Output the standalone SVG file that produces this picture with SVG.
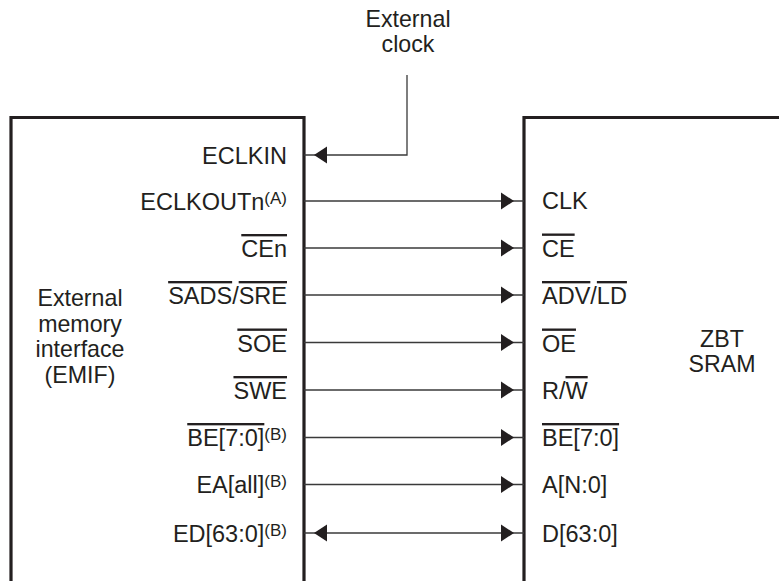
<svg xmlns="http://www.w3.org/2000/svg" width="779" height="581" viewBox="0 0 779 581">
<style>
text{font-family:"Liberation Sans",Arial,sans-serif;font-size:23.5px;fill:#231f20}
.l{text-anchor:end}
.c{text-anchor:middle}
.blk{font-size:23.2px}
.ov{text-decoration:overline}
.sup{font-size:17px}
.box{fill:none;stroke:#231f20;stroke-width:3.2}
.wire{fill:none;stroke:#3a3a3a;stroke-width:1.3}
</style>
<defs>
<marker id="ah" markerUnits="userSpaceOnUse" markerWidth="30" markerHeight="20" viewBox="-30 -10 30 20" refX="0" refY="0" orient="auto-start-reverse">
<path d="M-10,0 L-23,-8.5 L-23,8.5 Z" fill="#231f20"/>
</marker>
</defs>
<rect width="779" height="581" fill="#fff"/>
<g id="emif">
<path class="box" d="M11,581 V117.5 H304 V581"/>
<text class="c blk" x="80" y="306">External</text>
<text class="c blk" x="80" y="331.5">memory</text>
<text class="c blk" x="80" y="357">interface</text>
<text class="c blk" x="80" y="382.5">(EMIF)</text>
<text class="l" x="287" y="163.5">ECLKIN</text>
<text class="l" x="287" y="209.5">ECLKOUTn<tspan class="sup" dy="-6">(A)</tspan></text>
<text class="l" x="287" y="257"><tspan class="ov">CEn</tspan></text>
<text class="l" x="287" y="304"><tspan class="ov">SADS</tspan>/<tspan class="ov">SRE</tspan></text>
<text class="l" x="287" y="351.5"><tspan class="ov">SOE</tspan></text>
<text class="l" x="287" y="399"><tspan class="ov">SWE</tspan></text>
<text class="l" x="287" y="446"><tspan class="ov">BE[7:0]</tspan><tspan class="sup" dy="-6">(B)</tspan></text>
<text class="l" x="287" y="493">EA[all]<tspan class="sup" dy="-6">(B)</tspan></text>
<text class="l" x="287" y="541.5">ED[63:0]<tspan class="sup" dy="-6">(B)</tspan></text>
</g>
<g id="sram">
<path class="box" d="M779,117.5 H524 V581"/>
<text class="c blk" x="722" y="347">ZBT</text>
<text class="c blk" x="722" y="372">SRAM</text>
<text x="542" y="209">CLK</text>
<text x="542" y="256.5"><tspan class="ov">CE</tspan></text>
<text x="542" y="304"><tspan class="ov">ADV</tspan>/<tspan class="ov">LD</tspan></text>
<text x="542" y="351.5"><tspan class="ov">OE</tspan></text>
<text x="542" y="399">R/<tspan class="ov">W</tspan></text>
<text x="542" y="446"><tspan class="ov">BE[7:0]</tspan></text>
<text x="542" y="493">A[N:0]</text>
<text x="542" y="541.5">D[63:0]</text>
</g>
<g id="clock">
<text class="c blk" x="408" y="27">External</text>
<text class="c blk" x="408" y="52">clock</text>
</g>
<g id="connectors">
<path class="wire" d="M407,75 V155 H304" marker-end="url(#ah)"/>
<path class="wire" d="M304,201 H524" marker-end="url(#ah)"/>
<path class="wire" d="M304,248 H524" marker-end="url(#ah)"/>
<path class="wire" d="M304,295 H524" marker-end="url(#ah)"/>
<path class="wire" d="M304,342.5 H524" marker-end="url(#ah)"/>
<path class="wire" d="M304,390 H524" marker-end="url(#ah)"/>
<path class="wire" d="M304,437.5 H524" marker-end="url(#ah)"/>
<path class="wire" d="M304,484.5 H524" marker-end="url(#ah)"/>
<path class="wire" d="M304,533 H524" marker-start="url(#ah)" marker-end="url(#ah)"/>
</g>
</svg>
